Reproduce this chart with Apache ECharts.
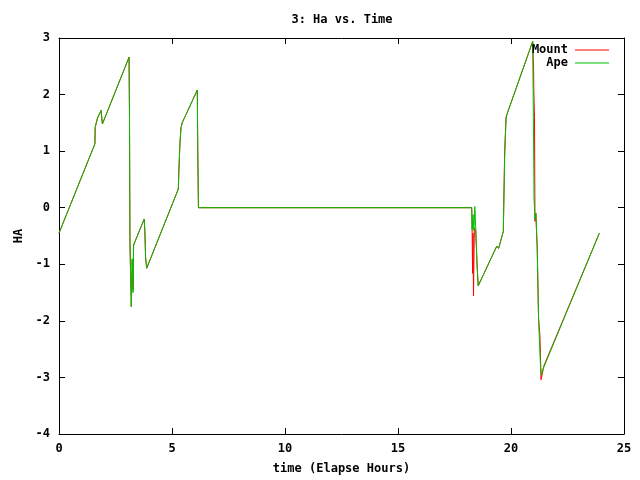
<!DOCTYPE html>
<html>
<head>
<meta charset="utf-8">
<script src="https://cdn.jsdelivr.net/npm/echarts@6/dist/echarts.min.js"></script>
<style>
  html, body { margin: 0; padding: 0; background: #fff; }
  #chart { width: 640px; height: 480px; }
</style>
</head>
<body>
<div id="chart"></div>
<script>
// Mount (red) trace: hours / HA
const mountTime = [0.00, 1.59, 1.60, 1.70, 1.86, 1.92, 3.10, 3.12, 3.14, 3.20, 3.24, 3.28, 3.30, 3.77, 3.80, 3.83, 3.88,
  5.28, 5.30, 5.35, 5.40, 5.46, 6.12, 6.14, 6.17, 18.26, 18.27, 18.28, 18.30, 18.32, 18.34, 18.38, 18.44, 18.50, 18.55,
  19.37, 19.45, 19.66, 19.68, 19.72, 19.78, 19.82, 20.96, 21.00, 21.01, 21.04, 21.06, 21.10, 21.16, 21.22, 21.28,
  21.33, 21.38, 21.45, 23.91]
const mountHA = [-0.45, 1.13, 1.42, 1.58, 1.72, 1.48, 2.66, 1.57, -0.64, -1.75, -0.93, -1.45, -0.66, -0.20, -0.42, -0.87, -1.07,
  0.33, 0.60, 1.13, 1.42, 1.51, 2.08, 1.05, 0.00, 0.00, -0.12, -0.38, -1.16, -0.45, -1.56, -0.36, -0.40, -1.03, -1.38,
  -0.68, -0.72, -0.42, 0.05, 1.00, 1.60, 1.65, 2.94, 2.43, 2.07, 1.60, -0.24, -0.10, -0.71, -1.96, -2.27,
  -3.04, -2.95, -2.80, -0.45]

// Ape (green) trace
const apeTime = [0.00, 1.59, 1.60, 1.70, 1.86, 1.92, 3.10, 3.12, 3.14, 3.20, 3.24, 3.28, 3.30, 3.77, 3.80, 3.83, 3.88,
  5.28, 5.30, 5.35, 5.40, 5.46, 6.12, 6.14, 6.17, 18.26, 18.28, 18.32, 18.36, 18.40, 18.44, 18.50, 18.55,
  19.37, 19.45, 19.66, 19.68, 19.72, 19.78, 19.82, 20.96, 21.02, 21.06, 21.10, 21.16, 21.22, 21.30, 21.34, 21.40, 23.91]
const apeHA = [-0.45, 1.13, 1.42, 1.58, 1.72, 1.48, 2.66, 1.57, -0.64, -1.75, -0.90, -1.50, -0.66, -0.20, -0.42, -0.87, -1.07,
  0.33, 0.60, 1.13, 1.42, 1.51, 2.08, 1.05, 0.00, 0.00, -0.39, -0.12, -0.40, 0.02, -0.36, -1.03, -1.38,
  -0.68, -0.72, -0.42, 0.05, 0.90, 1.55, 1.65, 2.94, 0.17, -0.20, -0.10, -0.71, -1.96, -2.75, -2.96, -2.87, -0.45]

const xTicks = [0, 25, 5]   // min, max, interval
const yTicks = [-4, 3, 1]

const font = 'DejaVu Sans Mono'
const txt = { fontFamily: font, fontWeight: 'bold', fontSize: 12, color: '#000' }

function zip(xs, ys) {
  return xs.map((x, i) => [x, ys[i]])
}

function frameAxis(pos, range, extra) {
  return Object.assign({
    type: 'value',
    position: pos,
    min: range[0],
    max: range[1],
    interval: range[2],
    axisLine: { show: true, onZero: false, lineStyle: { color: '#000', width: 1 } },
    axisTick: { show: true, inside: true, length: 6, lineStyle: { color: '#000' } },
    axisLabel: { show: false },
    splitLine: { show: false }
  }, extra || {})
}

function legendBox(name, top) {
  return {
    data: [name],
    right: 26,
    top: top,
    align: 'right',
    icon: 'rect',
    itemWidth: 34,
    itemHeight: 1,
    itemGap: 4,
    textStyle: Object.assign({ padding: [0, 2, 0, 0] }, txt)
  }
}

let myChart = echarts.init(document.getElementById('chart'), null, { renderer: 'canvas' })
let option = {
  backgroundColor: '#fff',
  animation: false,
  title: {
    text: '3: Ha vs. Time',
    left: 337,
    textAlign: 'center',
    top: 9,
    textStyle: txt
  },
  legend: [legendBox('Mount', 39), legendBox('Ape', 52)],
  grid: { left: 59, right: 16, top: 38, bottom: 42 },
  xAxis: [
    frameAxis('bottom', xTicks, {
      axisLabel: Object.assign({ show: true, margin: 9 }, txt),
      name: 'time (Elapse Hours)',
      nameLocation: 'middle',
      nameGap: 29,
      nameTextStyle: txt
    }),
    frameAxis('top', xTicks)
  ],
  yAxis: [
    frameAxis('left', yTicks, {
      axisLabel: Object.assign({ show: true, margin: 9 }, txt),
      name: 'HA',
      nameLocation: 'middle',
      nameGap: 31,
      nameTextStyle: txt
    }),
    frameAxis('right', yTicks)
  ],
  series: [
    {
      name: 'Mount',
      type: 'line',
      xAxisIndex: 0,
      yAxisIndex: 0,
      showSymbol: false,
      symbol: 'none',
      lineStyle: { color: '#ff0000', width: 1 },
      itemStyle: { color: '#ff0000' },
      data: zip(mountTime, mountHA)
    },
    {
      name: 'Ape',
      type: 'line',
      xAxisIndex: 0,
      yAxisIndex: 0,
      showSymbol: false,
      symbol: 'none',
      lineStyle: { color: '#00c000', width: 1 },
      itemStyle: { color: '#00c000' },
      data: zip(apeTime, apeHA)
    }
  ]
}
myChart.setOption(option)
</script>
</body>
</html>
